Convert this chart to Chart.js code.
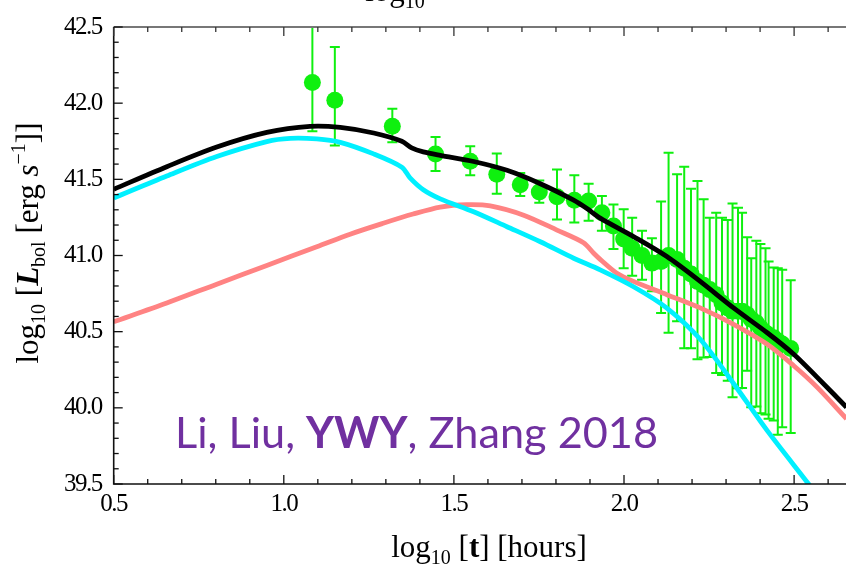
<!DOCTYPE html>
<html>
<head>
<meta charset="utf-8">
<script src="https://cdn.jsdelivr.net/npm/chart.js@4/dist/chart.umd.min.js"></script>
<style>
  html, body { margin: 0; padding: 0; background: #ffffff; overflow: hidden; }
  #wrap { width: 846px; height: 565px; overflow: hidden; }
</style>
</head>
<body>
<div id="wrap"><canvas id="c" width="846" height="565"></canvas></div>
<script>
// Observed bolometric light curve: log10 t [hours], log10 L, upper and lower ends of the error bars
const obsLogT = [1.084,1.150,1.319,1.446,1.548,1.626,1.695,1.751,1.803,1.854,1.896,1.935,1.969,1.999,2.024,2.053,2.082,2.109,2.131,2.156,2.177,2.197,2.216,2.234,2.252,2.271,2.288,2.305,2.319,2.335,2.347,2.362,2.374,2.389,2.401,2.416,2.425,2.440,2.452,2.465,2.490];
const obsLogL = [42.135,42.019,41.848,41.667,41.619,41.533,41.465,41.417,41.385,41.363,41.358,41.280,41.193,41.109,41.047,41.000,40.950,40.961,41.000,40.974,40.917,40.878,40.830,40.804,40.776,40.743,40.689,40.656,40.634,40.634,40.634,40.613,40.582,40.558,40.525,40.493,40.478,40.460,40.439,40.419,40.390];
const obsHi   = [42.600,42.368,41.963,41.778,41.717,41.670,41.541,41.493,41.565,41.526,41.471,41.391,41.334,41.304,41.248,41.163,41.113,41.354,41.674,41.533,41.582,41.439,41.489,41.370,41.248,41.280,41.248,41.233,41.341,41.313,41.280,41.119,40.982,41.097,41.076,41.047,40.961,40.921,40.917,40.906,40.837];
const obsLo   = [41.815,41.722,41.743,41.554,41.526,41.406,41.391,41.347,41.236,41.217,41.228,41.163,41.043,40.917,40.867,40.841,40.765,40.623,40.493,40.569,40.391,40.391,40.319,40.330,40.334,40.228,40.215,40.178,40.069,40.128,40.130,40.243,40.004,40.008,39.964,39.956,39.928,39.917,39.824,39.873,39.834];

// Model: total luminosity (black)
const totalLogT = [0.500,0.656,0.803,0.950,1.077,1.166,1.264,1.347,1.376,1.410,1.460,1.558,1.656,1.754,1.852,1.891,1.930,2.028,2.126,2.224,2.322,2.421,2.499,2.568,2.654];
const totalLogL = [41.435,41.583,41.712,41.808,41.848,41.841,41.804,41.750,41.706,41.680,41.657,41.617,41.559,41.471,41.363,41.308,41.245,41.124,40.993,40.830,40.656,40.493,40.352,40.200,40.004];

// Model: early component (cyan)
const earlyLogT = [0.500,0.656,0.803,0.950,1.019,1.097,1.166,1.264,1.347,1.371,1.410,1.460,1.558,1.656,1.754,1.852,1.930,2.028,2.126,2.224,2.322,2.421,2.545,2.580];
const earlyLogL = [41.378,41.522,41.650,41.748,41.769,41.765,41.743,41.667,41.580,41.510,41.432,41.372,41.287,41.189,41.090,40.982,40.906,40.795,40.655,40.450,40.160,39.850,39.493,39.390];

// Model: late component (salmon)
const lateLogT = [0.500,0.656,0.803,0.950,1.097,1.195,1.290,1.380,1.460,1.538,1.607,1.705,1.803,1.881,1.911,1.930,1.979,2.028,2.126,2.224,2.322,2.421,2.499,2.568,2.654];
const lateLogL = [40.565,40.688,40.812,40.935,41.057,41.140,41.210,41.272,41.318,41.334,41.326,41.265,41.167,41.084,41.015,40.975,40.884,40.830,40.743,40.656,40.548,40.417,40.276,40.134,39.928];

// Axis ticks
const xTickValues = [0.5, 1.0, 1.5, 2.0, 2.5];
const yTickValues = [39.5, 40.0, 40.5, 41.0, 41.5, 42.0, 42.5];

const GREEN = '#0ff00f';
const SERIF = '"Liberation Serif", "DejaVu Serif", serif';
const PAGE_W = 846, PAGE_H = 565;

const pairs = (xs, ys) => xs.map((v, i) => ({ x: v, y: ys[i] }));

// Draw a sequence of text runs (sub/superscripts via dy offsets), centred on x
function drawRuns(ctx, runs, x, y) {
  let total = 0;
  runs.forEach(r => { ctx.font = r.font; r.w = ctx.measureText(r.text).width; total += r.w; });
  let cx = x - total / 2;
  runs.forEach(r => {
    ctx.font = r.font;
    ctx.fillText(r.text, cx, y + (r.dy || 0));
    cx += r.w;
  });
}

const framePlugin = {
  id: 'frame',
  beforeDraw(chart) {
    chart.ctx.letterSpacing = '-1.5px';
  },
  beforeDatasetsDraw(chart) {
    // error bars sit underneath the markers and model curves
    const { ctx, chartArea: a, scales: { x, y } } = chart;
    ctx.save();
    ctx.beginPath();
    ctx.rect(a.left, a.top, a.right - a.left, a.bottom - a.top);
    ctx.clip();
    ctx.strokeStyle = GREEN;
    ctx.lineWidth = 2;
    obsLogT.forEach((t, i) => {
      const px = x.getPixelForValue(t);
      const top = y.getPixelForValue(obsHi[i]);
      const bot = y.getPixelForValue(obsLo[i]);
      ctx.beginPath();
      ctx.moveTo(px, top); ctx.lineTo(px, bot);
      ctx.moveTo(px - 5, top); ctx.lineTo(px + 5, top);
      ctx.moveTo(px - 5, bot); ctx.lineTo(px + 5, bot);
      ctx.stroke();
    });
    ctx.restore();
  },
  afterDraw(chart) {
    const { ctx, chartArea: a, scales: { x, y } } = chart;
    ctx.save();
    ctx.letterSpacing = '0px';

    // frame lines
    ctx.lineWidth = 2;
    ctx.strokeStyle = '#777777';
    ctx.beginPath(); ctx.moveTo(a.left, a.top); ctx.lineTo(a.right, a.top); ctx.stroke();
    ctx.strokeStyle = '#111111';
    ctx.lineWidth = 1.6;
    ctx.beginPath();
    ctx.moveTo(a.left, a.top); ctx.lineTo(a.left, a.bottom); ctx.lineTo(a.right, a.bottom);
    ctx.stroke();

    // inward ticks, minor every 0.1
    ctx.lineWidth = 1.3;
    for (let k = 5; k <= 26; k++) {
      const px = x.getPixelForValue(k / 10);
      const len = (k % 5 === 0) ? 9 : 5;
      ctx.strokeStyle = '#111111';
      ctx.beginPath(); ctx.moveTo(px, a.bottom); ctx.lineTo(px, a.bottom - len); ctx.stroke();
      ctx.strokeStyle = '#333333';
      ctx.beginPath(); ctx.moveTo(px, a.top); ctx.lineTo(px, a.top + len); ctx.stroke();
    }
    ctx.strokeStyle = '#111111';
    for (let k = 395; k <= 425; k++) {
      const py = y.getPixelForValue(k / 10);
      const len = (k % 5 === 0) ? 9 : 5;
      ctx.beginPath(); ctx.moveTo(a.left, py); ctx.lineTo(a.left + len, py); ctx.stroke();
    }

    // axis titles
    ctx.fillStyle = '#000000';
    ctx.textBaseline = 'alphabetic';
    const big = '31px ' + SERIF, small = '20px ' + SERIF;
    ctx.save();
    ctx.translate(38, 243);
    ctx.rotate(-Math.PI / 2);
    drawRuns(ctx, [
      { text: 'log', font: big },
      { text: '10', font: small, dy: 7 },
      { text: ' [', font: big },
      { text: 'L', font: 'italic bold 31px ' + SERIF },
      { text: 'bol', font: small, dy: 7 },
      { text: ' [erg ', font: big },
      { text: 's', font: 'italic 31px ' + SERIF },
      { text: '\u22121', font: small, dy: -13 },
      { text: ']]', font: big }
    ], 0, 0);
    ctx.restore();

    const bigX = '31px ' + SERIF, smallX = '20px ' + SERIF;
    drawRuns(ctx, [
      { text: 'log', font: bigX },
      { text: '10', font: smallX, dy: 7 },
      { text: ' [', font: bigX },
      { text: 't', font: 'bold 31px ' + SERIF },
      { text: '] [hours]', font: bigX }
    ], 489, 557);

    // title of the panel above, cut by the top edge
    drawRuns(ctx, [
      { text: 'log', font: bigX },
      { text: '10', font: smallX, dy: 7 }
    ], 395, 1);

    // credit line
    const parts = [
      { text: 'Li, Liu, ', bold: false },
      { text: 'YWY', bold: true },
      { text: ', Zhang 2018', bold: false }
    ];
    const fam = 'Lato, "Open Sans", sans-serif';
    let w = 0;
    parts.forEach(p => { ctx.font = (p.bold ? 'bold ' : '') + '40px ' + fam; w += ctx.measureText(p.text).width; });
    const size = 40 * 483 / w;
    let cx = 175;
    ctx.fillStyle = '#7030a0';
    parts.forEach(p => {
      ctx.font = (p.bold ? 'bold ' : '') + size.toFixed(2) + 'px ' + fam;
      ctx.fillText(p.text, cx, 448);
      cx += ctx.measureText(p.text).width;
    });
    ctx.restore();
  }
};

const curve = (label, xs, ys, color, order) => ({
  label,
  type: 'line',
  data: pairs(xs, ys),
  borderColor: color,
  borderWidth: 4.8,
  pointRadius: 0,
  tension: 0.3,
  fill: false,
  order
});

const config = {
  type: 'scatter',
  data: {
    datasets: [
      curve('total', totalLogT, totalLogL, '#000000', 0),
      curve('early', earlyLogT, earlyLogL, '#00f0ff', 1),
      curve('late', lateLogT, lateLogL, '#ff8383', 2),
      {
        label: 'observed',
        data: pairs(obsLogT, obsLogL),
        backgroundColor: GREEN,
        borderColor: GREEN,
        borderWidth: 0,
        pointRadius: 8.5,
        order: 3
      }
    ]
  },
  options: {
    responsive: false,
    animation: false,
    devicePixelRatio: 1,
    layout: { padding: { top: 24, right: 0, left: 0, bottom: 0 } },
    plugins: { legend: { display: false }, tooltip: { enabled: false } },
    scales: {
      x: {
        type: 'linear',
        min: 0.5,
        max: 2.654,
        grid: { display: false, drawTicks: false },
        border: { display: false },
        afterBuildTicks: s => { s.ticks = xTickValues.map(v => ({ value: v })); },
        afterFit: s => { s.height = 81; },
        ticks: {
          color: '#000000',
          font: { family: SERIF, size: 25 },
          padding: 5,
          maxRotation: 0,
          callback: v => Number(v).toFixed(1)
        }
      },
      y: {
        type: 'linear',
        min: 39.5,
        max: 42.5,
        grid: { display: false, drawTicks: false },
        border: { display: false },
        afterBuildTicks: s => { s.ticks = yTickValues.map(v => ({ value: v })); },
        afterFit: s => { s.width = 113.7; },
        ticks: {
          color: '#000000',
          font: { family: SERIF, size: 25 },
          padding: 12,
          callback: v => Number(v).toFixed(1)
        }
      }
    }
  },
  plugins: [framePlugin]
};

// The plot frame runs off the right edge of the page: widen the canvas by the
// layout's right margin so the chart area ends exactly at the page edge.
const canvas = document.getElementById('c');
let chart = new Chart(canvas, config);
const extra = Math.round(PAGE_W - chart.chartArea.right);
if (extra > 0) {
  chart.destroy();
  canvas.width = PAGE_W + extra;
  canvas.height = PAGE_H;
  canvas.style.width = (PAGE_W + extra) + 'px';
  canvas.style.height = PAGE_H + 'px';
  chart = new Chart(canvas, config);
}
</script>
</body>
</html>
